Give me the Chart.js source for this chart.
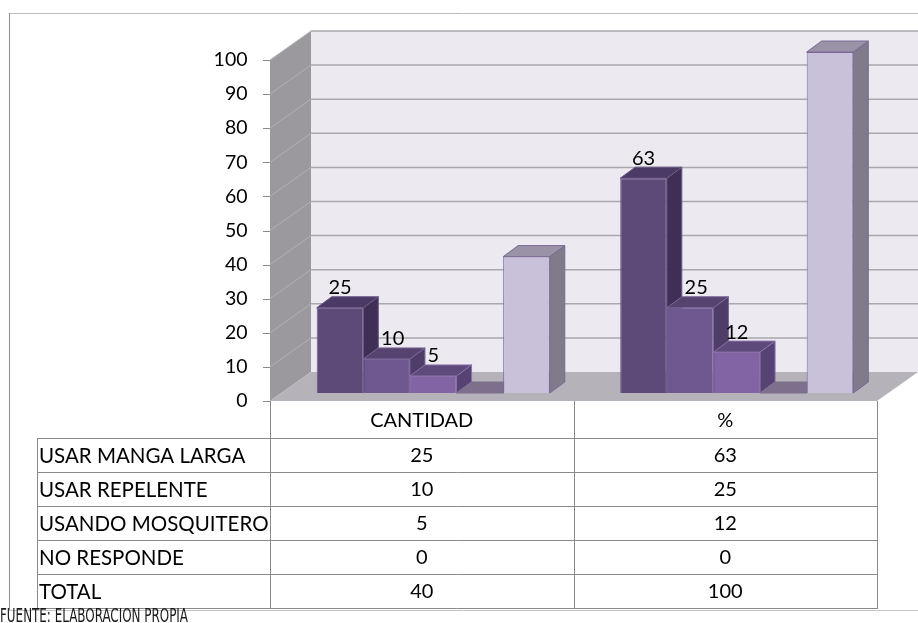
<!DOCTYPE html>
<html>
<head>
<meta charset="utf-8">
<script src="https://cdn.jsdelivr.net/npm/chart.js@4/dist/chart.umd.min.js"></script>
<style>
  html, body { margin: 0; padding: 0; background: #fff; }
  #wrap { width: 918px; height: 623px; position: relative; }
</style>
</head>
<body>
<div id="wrap"><canvas id="proteccionChart"></canvas></div>
<script>
// Categories and series
const categories = ['CANTIDAD', '%'];
const seriesNames = ['USAR MANGA LARGA', 'USAR REPELENTE', 'USANDO MOSQUITERO', 'NO RESPONDE', 'TOTAL'];
const usarMangaLarga = [25, 63];
const usarRepelente = [10, 25];
const usandoMosquitero = [5, 12];
const noResponde = [0, 0];
const total = [40, 100];
const yMin = 0;
const yMax = 100;
const yStep = 10;

// which series carry value labels over the bars
const showValue = [true, true, true, false, false];

// face colours: front, side, top, edge
const faces = [
    { front: '#5E4A78', side: '#3F2F56', top: '#4B3A66', edge: '#6B5886' },
    { front: '#6F5890', side: '#4E3C69', top: '#57436F', edge: '#7A6698' },
    { front: '#8263A4', side: '#574274', top: '#5E4A7B', edge: '#8A70A8' },
    { front: '#8B7CA0', side: '#6E6280', top: '#7E708C', edge: '#7E708C' },
    { front: '#C9C1D9', side: '#807A8B', top: '#9A93A7', edge: '#7B6898' }
];

const FONT = "Lato, 'Open Sans', sans-serif";
const FRONT = { dx: -11.5, dy: 8 };   // front plane relative to bar plane
const BACK = { dx: 29.5, dy: -21 };   // back wall relative to bar plane
const DEPTH = { dx: 15, dy: -11 };    // bar depth

function poly(ctx, pts, fill, stroke) {
    ctx.beginPath();
    ctx.moveTo(pts[0][0], pts[0][1]);
    for (let i = 1; i < pts.length; i++) ctx.lineTo(pts[i][0], pts[i][1]);
    ctx.closePath();
    ctx.fillStyle = fill;
    ctx.fill();
    if (stroke) {
        ctx.strokeStyle = stroke;
        ctx.lineWidth = 1;
        ctx.stroke();
    }
}

function line(ctx, x1, y1, x2, y2, color, w) {
    ctx.beginPath();
    ctx.moveTo(x1, y1);
    ctx.lineTo(x2, y2);
    ctx.strokeStyle = color;
    ctx.lineWidth = w || 1;
    ctx.stroke();
}

// walls, floor, grid and the top/side faces of every bar
const scene3d = {
    id: 'scene3d',
    beforeDatasetsDraw(chart) {
        const { ctx, chartArea: a, scales: { y } } = chart;
        const y0 = y.getPixelForValue(yMin);
        const yt = y.getPixelForValue(yMax);
        ctx.save();

        // left wall
        poly(ctx, [
            [a.left + FRONT.dx, yt + FRONT.dy], [a.left + BACK.dx, yt + BACK.dy],
            [a.left + BACK.dx, y0 + BACK.dy], [a.left + FRONT.dx, y0 + FRONT.dy]
        ], '#9B999E');
        // back wall
        poly(ctx, [
            [a.left + BACK.dx, yt + BACK.dy], [a.right + BACK.dx, yt + BACK.dy],
            [a.right + BACK.dx, y0 + BACK.dy], [a.left + BACK.dx, y0 + BACK.dy]
        ], '#ECEAF0');
        // floor
        poly(ctx, [
            [a.left + FRONT.dx, y0 + FRONT.dy], [a.left + BACK.dx, y0 + BACK.dy],
            [a.right + BACK.dx, y0 + BACK.dy], [a.right + FRONT.dx, y0 + FRONT.dy]
        ], '#B5B3B9');

        // grid lines and tick marks
        y.ticks.forEach(t => {
            const py = y.getPixelForValue(t.value);
            if (t.value > yMin) {
                line(ctx, a.left + BACK.dx, py + BACK.dy, a.right + BACK.dx, py + BACK.dy, '#A9A8AC', 1.5);
                line(ctx, a.left + FRONT.dx, py + FRONT.dy, a.left + BACK.dx, py + BACK.dy, '#B2B0B5', 1);
            }
            line(ctx, a.left + FRONT.dx - 7, Math.round(py + FRONT.dy) + 0.5,
                a.left + FRONT.dx, Math.round(py + FRONT.dy) + 0.5, '#8C8C8C', 1);
        });

        // bar tops and sides, left to right so nearer faces overlap
        const bars = [];
        chart.data.datasets.forEach((ds, di) => {
            chart.getDatasetMeta(di).data.forEach(el => {
                const p = el.getProps(['x', 'y', 'base', 'width'], true);
                bars.push({ p, f: faces[di] });
            });
        });
        bars.sort((m, n) => m.p.x - n.p.x);
        bars.forEach(({ p, f }) => {
            const l = p.x - p.width / 2, r = p.x + p.width / 2;
            const top = Math.min(p.y, p.base), bot = Math.max(p.y, p.base);
            if (bot - top > 0.5) {
                poly(ctx, [[r, top], [r + DEPTH.dx, top + DEPTH.dy],
                    [r + DEPTH.dx, bot + DEPTH.dy], [r, bot]], f.side, f.edge);
            }
            poly(ctx, [[l, top], [l + DEPTH.dx, top + DEPTH.dy],
                [r + DEPTH.dx, top + DEPTH.dy], [r, top]], f.top, f.edge);
        });
        ctx.restore();
    },
    afterDatasetsDraw(chart) {
        const { ctx } = chart;
        ctx.save();
        ctx.font = '20px ' + FONT;
        ctx.fillStyle = '#000';
        ctx.textAlign = 'center';
        ctx.textBaseline = 'middle';
        chart.data.datasets.forEach((ds, di) => {
            if (!showValue[di]) return;
            chart.getDatasetMeta(di).data.forEach((el, i) => {
                const v = ds.data[i];
                if (!v) return;
                const p = el.getProps(['x', 'y'], true);
                ctx.fillText(String(v), p.x + (di === 1 ? 6 : 0), p.y - 20);
            });
        });
        ctx.restore();
    },
    afterDraw(chart) {
        const { ctx, chartArea: a, scales: { y } } = chart;
        const band = (a.right - a.left) / categories.length;
        const cols = [];
        for (let i = 0; i <= categories.length; i++) cols.push(a.left + FRONT.dx + band * i);
        const tTop = y.getPixelForValue(yMin) + FRONT.dy;
        const headBot = 439;
        const rowH = 34;
        const xLeft = 37;
        const tBot = headBot + rowH * seriesNames.length;
        ctx.save();

        // outer frame
        line(ctx, 9, 13.5, 918, 13.5, '#BDBDBD', 1);
        line(ctx, 9.5, 13, 9.5, 611, '#8E8E8E', 1);
        line(ctx, 9, 610.5, 918, 610.5, '#C4C4C4', 1);

        // data table
        cols.forEach(cx => line(ctx, Math.round(cx) + 0.5, tTop, Math.round(cx) + 0.5, tBot, '#8A8A8A', 1));
        line(ctx, xLeft + 0.5, headBot, xLeft + 0.5, tBot, '#8A8A8A', 1);
        for (let r = 0; r <= seriesNames.length; r++) {
            const ry = headBot + rowH * r - 0.5;
            line(ctx, xLeft, ry, cols[cols.length - 1] + 1, ry, '#8A8A8A', 1);
        }

        ctx.fillStyle = '#000';
        ctx.textBaseline = 'middle';
        ctx.textAlign = 'center';
        ctx.font = '20px ' + FONT;
        categories.forEach((c, i) => ctx.fillText(c, (cols[i] + cols[i + 1]) / 2, (tTop + headBot) / 2 + 1));
        chart.data.datasets.forEach((ds, r) => {
            const ry = headBot + rowH * r + rowH / 2;
            ctx.textAlign = 'left';
            ctx.font = '20.5px ' + FONT;
            ctx.fillText(ds.label, xLeft + 2, ry);
            ctx.textAlign = 'center';
            ctx.font = '20px ' + FONT;
            ds.data.forEach((v, i) => ctx.fillText(String(v), (cols[i] + cols[i + 1]) / 2, ry));
        });

        // source note, squeezed into a narrow strip
        const note = 'FUENTE: ELABORACION PROPIA';
        ctx.save();
        ctx.font = "19px 'DejaVu Sans Condensed', 'DejaVu Sans', sans-serif";
        const sx = 188 / ctx.measureText(note).width;
        ctx.translate(0, 617);
        ctx.scale(sx, 1);
        ctx.fillStyle = '#1A1A1A';
        ctx.textAlign = 'left';
        ctx.textBaseline = 'middle';
        ctx.fillText(note, 0, 0);
        ctx.restore();

        ctx.restore();
    }
};

const seriesValues = [usarMangaLarga, usarRepelente, usandoMosquitero, noResponde, total];

const chart = new Chart(document.getElementById('proteccionChart'), {
    type: 'bar',
    data: {
        labels: categories,
        datasets: seriesNames.map((name, i) => ({
            label: name,
            data: seriesValues[i],
            backgroundColor: faces[i].front,
            borderColor: faces[i].edge,
            borderWidth: 1,
            categoryPercentage: 0.768,
            barPercentage: 1.0
        }))
    },
    options: {
        responsive: true,
        maintainAspectRatio: false,
        animation: false,
        devicePixelRatio: 1,
        layout: { autoPadding: false, padding: { top: 52, bottom: 230, left: 0, right: 29.5 } },
        plugins: { legend: { display: false }, tooltip: { enabled: false } },
        scales: {
            x: { display: false },
            y: {
                min: yMin,
                max: yMax,
                grid: { display: false, drawTicks: false },
                border: { display: false },
                ticks: {
                    stepSize: yStep,
                    padding: 34,
                    labelOffset: 8,
                    color: '#000',
                    font: { family: FONT, size: 19.5 }
                },
                afterFit(scale) { scale.width = 281.5; }
            }
        }
    },
    plugins: [scene3d]
});
</script>
</body>
</html>
